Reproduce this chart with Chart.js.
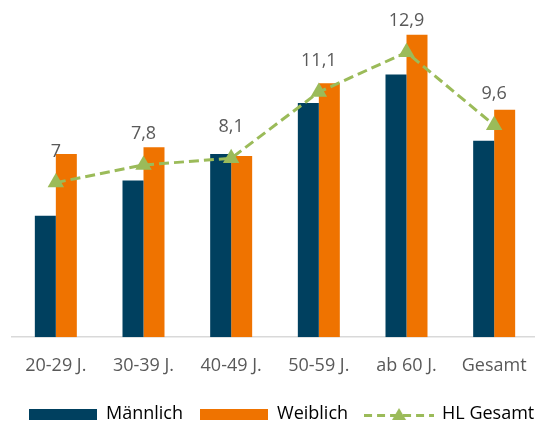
<!DOCTYPE html>
<html>
<head>
<meta charset="utf-8">
<style>
  html, body { margin: 0; padding: 0; background: #fff; overflow: hidden; }
  #wrap { width: 535px; height: 423px; overflow: hidden; position: relative; }
  canvas { display: block; }
</style>
<script src="https://cdn.jsdelivr.net/npm/chart.js@4.4.1/dist/chart.umd.min.js"></script>
</head>
<body>
<div id="wrap"><canvas id="c" width="580" height="433"></canvas></div>
<script>
// Haushaltslöcher nach Altersgruppe und Geschlecht (Werte in %)
const categories = ['20-29 J.', '30-39 J.', '40-49 J.', '50-59 J.', 'ab 60 J.', 'Gesamt'];
const maennlich  = [5.5, 7.1, 8.3, 10.6, 11.9, 8.9];
const weiblich   = [8.3, 8.6, 8.2, 11.5, 13.7, 10.3];
const hlGesamt   = [7, 7.8, 8.1, 11.1, 12.9, 9.6];
const seriesNames = ['Männlich', 'Weiblich', 'HL Gesamt'];

const colors = {
  m: '#00405F',
  w: '#EF7300',
  hl: '#9BBB59',
  text: '#595959',
  axis: '#D9D9D9'
};
const FONT = "'Open Sans', 'Noto Sans', sans-serif";

Chart.defaults.font.family = FONT;
Chart.defaults.font.size = 18;
Chart.defaults.color = colors.text;

// legend swatches: solid bars and a dashed line with a triangle marker
function barSwatch(color) {
  const c = document.createElement('canvas');
  c.width = 68; c.height = 11;
  const g = c.getContext('2d');
  g.fillStyle = color;
  g.fillRect(0, 0, 68, 11);
  return c;
}
function lineSwatch(color) {
  const c = document.createElement('canvas');
  c.width = 70; c.height = 14;
  const g = c.getContext('2d');
  g.strokeStyle = color;
  g.lineWidth = 3;
  g.setLineDash([8, 5]);
  g.beginPath(); g.moveTo(0, 8.5); g.lineTo(70, 8.5); g.stroke();
  g.fillStyle = color;
  g.beginPath();
  g.moveTo(35, 1); g.lineTo(42, 13); g.lineTo(28, 13); g.closePath();
  g.fill();
  return c;
}

const valueLabels = {
  id: 'valueLabels',
  afterDatasetsDraw(chart) {
    const ctx = chart.ctx;
    const meta = chart.getDatasetMeta(2);
    const values = chart.data.datasets[2].data;
    ctx.save();
    ctx.font = '18px ' + FONT;
    ctx.fillStyle = colors.text;
    ctx.textAlign = 'center';
    ctx.textBaseline = 'middle';
    meta.data.forEach((pt, i) => {
      ctx.fillText(String(values[i]).replace('.', ','), pt.x, pt.y - 31);
    });
    ctx.restore();
  }
};

new Chart(document.getElementById('c'), {
  type: 'bar',
  data: {
    labels: categories,
    datasets: [
      {
        label: seriesNames[0],
        data: maennlich,
        backgroundColor: colors.m,
        borderWidth: 0,
        categoryPercentage: 0.479,
        barPercentage: 1.0,
        order: 1
      },
      {
        label: seriesNames[1],
        data: weiblich,
        backgroundColor: colors.w,
        borderWidth: 0,
        categoryPercentage: 0.479,
        barPercentage: 1.0,
        order: 2
      },
      {
        type: 'line',
        label: seriesNames[2],
        data: hlGesamt,
        borderColor: colors.hl,
        borderWidth: 3,
        borderDash: [10, 5],
        pointStyle: 'triangle',
        pointRadius: 9.5,
        pointHoverRadius: 9.5,
        pointBackgroundColor: colors.hl,
        pointBorderWidth: 0,
        tension: 0,
        fill: false,
        order: 0
      }
    ]
  },
  options: {
    responsive: false,
    animation: false,
    devicePixelRatio: 1,
    layout: { padding: { top: 28, left: 12, right: 0, bottom: 0 } },
    scales: {
      x: {
        grid: { display: false, drawTicks: false },
        border: { display: true, color: colors.axis, width: 1.5 },
        ticks: { color: colors.text, font: { size: 18 }, padding: 18, maxRotation: 0 },
        afterFit(scale) { scale.height = 50.8; }
      },
      y: {
        position: 'right',
        min: 0,
        max: 14,
        grid: { display: false, drawTicks: false },
        border: { display: false },
        ticks: { display: false },
        afterFit(scale) { scale.width = 42; }
      }
    },
    plugins: {
      tooltip: { enabled: false },
      legend: {
        position: 'bottom',
        align: 'start',
        labels: {
          usePointStyle: true,
          pointStyleWidth: 68,
          padding: 17,
          color: colors.text,
          font: { size: 18 },
          generateLabels(chart) {
            const ds = chart.data.datasets;
            return [
              { text: ds[0].label, pointStyle: barSwatch(colors.m), fillStyle: colors.m, strokeStyle: colors.m, lineWidth: 0, hidden: false, datasetIndex: 0 },
              { text: ds[1].label, pointStyle: barSwatch(colors.w), fillStyle: colors.w, strokeStyle: colors.w, lineWidth: 0, hidden: false, datasetIndex: 1 },
              { text: ds[2].label, pointStyle: lineSwatch(colors.hl), fillStyle: colors.hl, strokeStyle: colors.hl, lineWidth: 0, hidden: false, datasetIndex: 2 }
            ];
          }
        }
      }
    }
  },
  plugins: [valueLabels]
});
</script>
</body>
</html>
